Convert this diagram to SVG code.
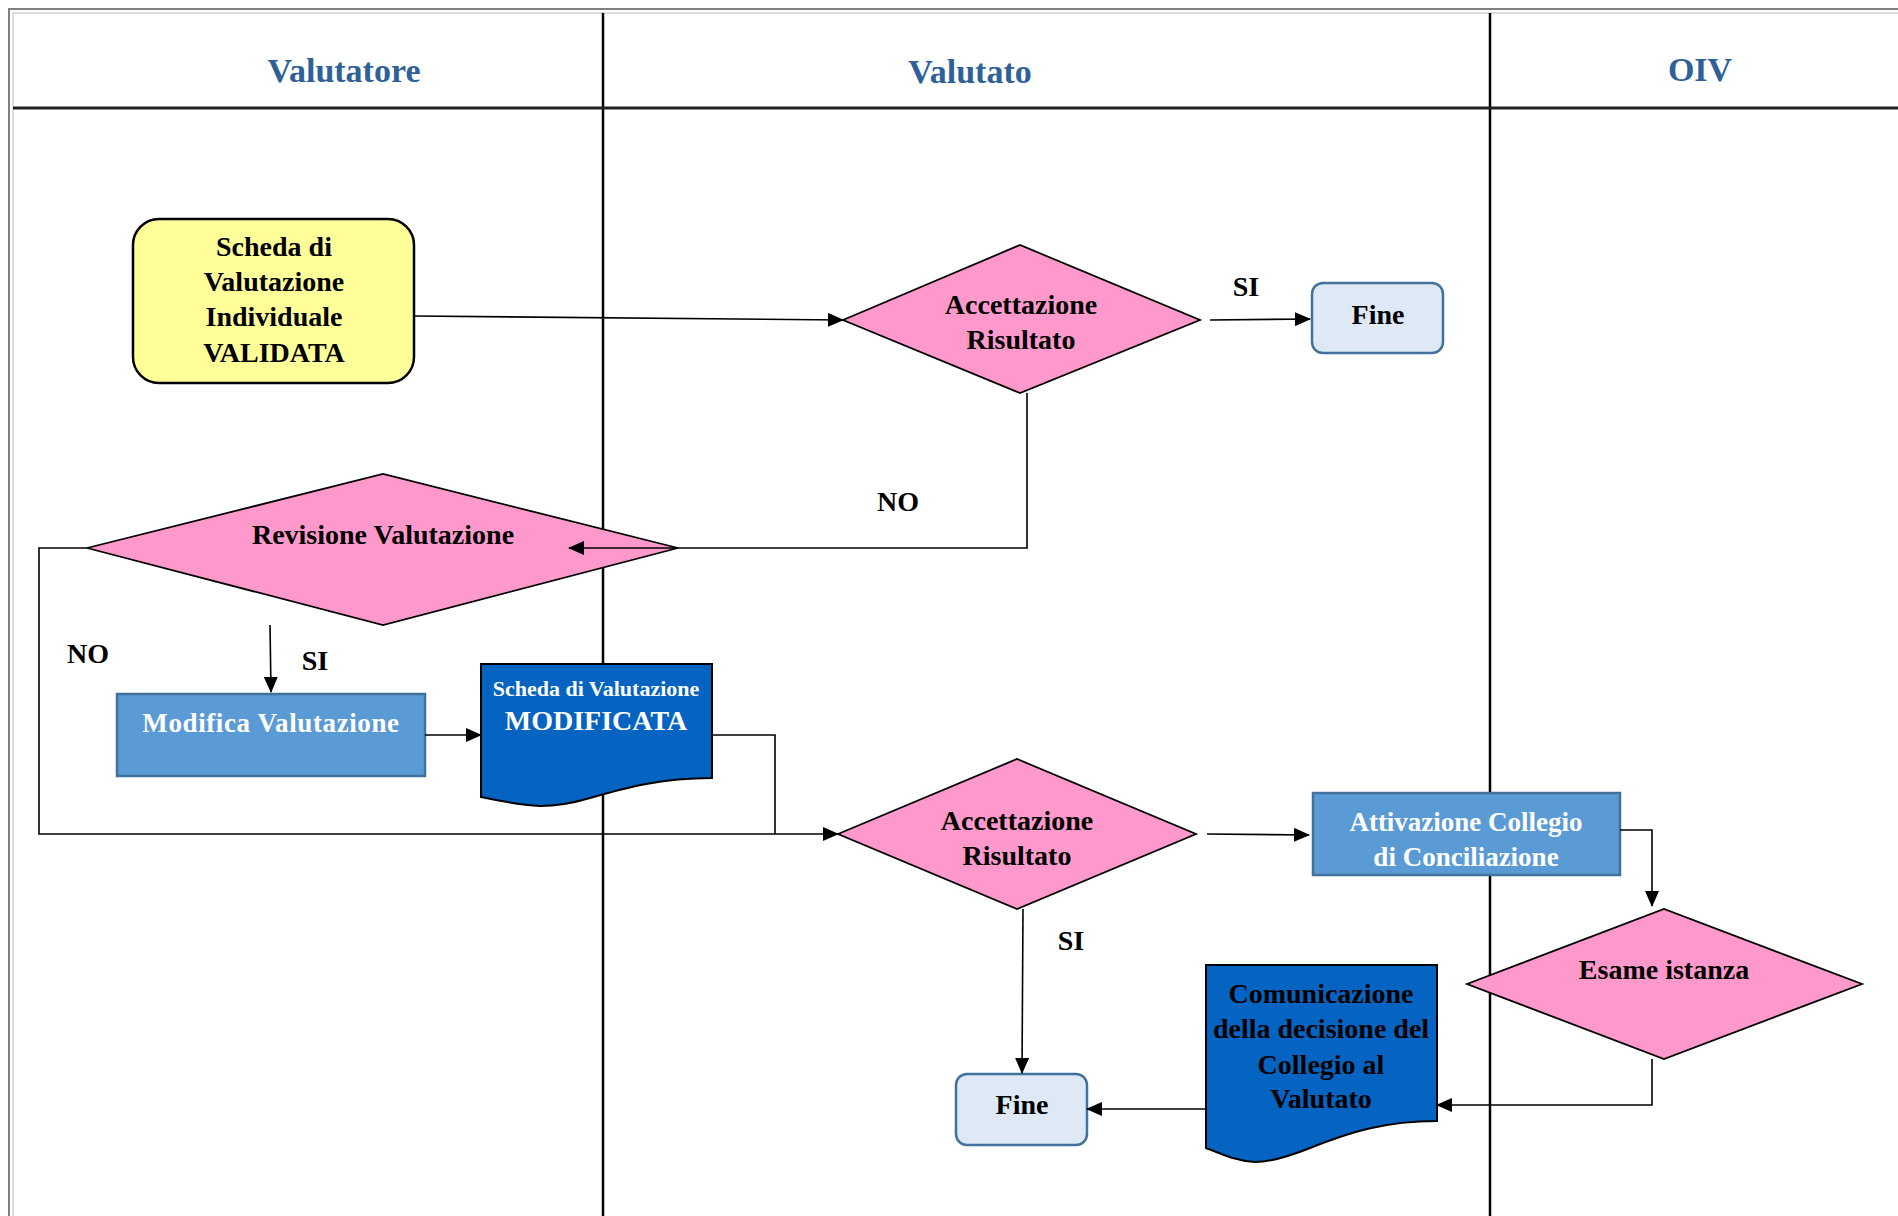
<svg xmlns="http://www.w3.org/2000/svg" width="1898" height="1216" viewBox="0 0 1898 1216">
<defs>
<marker id="arr" markerUnits="userSpaceOnUse" markerWidth="16" markerHeight="14" refX="15" refY="7" orient="auto">
<path d="M0,0 L16,7 L0,14 Z" fill="#000"/>
</marker>
<style>
text{font-family:"Liberation Serif","Times New Roman",serif;text-anchor:middle}
.hd{font-size:34px;font-weight:bold;fill:#2e6198}
.t{font-size:28px;font-weight:bold;fill:#000}
.w{font-size:27px;font-weight:bold;fill:#fff}
.dia{fill:#ff99cc;stroke:#000;stroke-width:1.8}
.fine{fill:#dee9f5;stroke:#41719c;stroke-width:2.5}
.proc{fill:#5b9bd5;stroke:#41719c;stroke-width:2.5}
.doc{fill:#0563c1;stroke:#000;stroke-width:2}
.c{fill:none;stroke:#000;stroke-width:1.6}
.lane{fill:none;stroke:#000;stroke-width:2.5}
</style>
</defs>
<rect width="1898" height="1216" fill="#fff"/>
<g id="frame">
<path d="M9,1216 V9 H1898" fill="none" stroke="#808080" stroke-width="2"/>
<path d="M13,1216 V13 H1898" fill="none" stroke="#d4d4d4" stroke-width="1.5"/>
<path class="lane" d="M603,13 V1216 M1490,13 V1216"/>
<path d="M13,108 H1898" stroke="#222" stroke-width="3"/>
</g>
<g id="headers">
<text class="hd" x="344" y="82">Valutatore</text>
<text class="hd" x="970" y="83">Valutato</text>
<text class="hd" x="1700" y="81">OIV</text>
</g>
<g id="scheda-validata">
<rect x="133" y="219" width="281" height="164" rx="26" fill="#ffff99" stroke="#000" stroke-width="2.5"/>
<text class="t" x="274" y="256">Scheda di</text>
<text class="t" x="274" y="291">Valutazione</text>
<text class="t" x="274" y="326">Individuale</text>
<text class="t" x="274" y="362">VALIDATA</text>
</g>
<g id="accettazione-1">
<polygon class="dia" points="843,320 1020,245 1200,320 1020,393"/>
<text class="t" x="1021" y="314">Accettazione</text>
<text class="t" x="1021" y="349">Risultato</text>
</g>
<g id="fine-1">
<rect class="fine" x="1312" y="283" width="131" height="70" rx="11"/>
<text class="t" x="1378" y="324">Fine</text>
</g>
<g id="revisione">
<polygon class="dia" points="87,548 383,474 678,548 383,625"/>
<text class="t" x="383" y="544">Revisione Valutazione</text>
</g>
<g id="modifica">
<rect class="proc" x="117" y="694" width="308" height="82"/>
<text class="w" x="271" y="732" letter-spacing="0.6">Modifica Valutazione</text>
</g>
<g id="scheda-modificata">
<path class="doc" d="M481,664 H712 V778 C660,778 625,788 590,798 C570,804 555,806 540,806 C520,805 500,801 481,797 Z"/>
<text class="w" x="596" y="696" style="font-size:22px">Scheda di Valutazione</text>
<text class="w" x="596" y="730" style="font-size:28px">MODIFICATA</text>
</g>
<g id="accettazione-2">
<polygon class="dia" points="838,834 1017,759 1196,834 1017,909"/>
<text class="t" x="1017" y="830">Accettazione</text>
<text class="t" x="1017" y="865">Risultato</text>
</g>
<g id="attivazione">
<rect class="proc" x="1313" y="793" width="307" height="82"/>
<text class="w" x="1466" y="831">Attivazione Collegio</text>
<text class="w" x="1466" y="866">di Conciliazione</text>
</g>
<g id="esame">
<polygon class="dia" points="1467,984 1664,909 1862,984 1664,1059"/>
<text class="t" x="1664" y="979">Esame istanza</text>
</g>
<g id="comunicazione">
<path class="doc" d="M1206,965 H1437 V1121 C1385,1121 1350,1132 1310,1148 C1285,1158 1270,1162 1255,1162 C1235,1161 1220,1153 1206,1148 Z"/>
<text class="t" x="1321" y="1003">Comunicazione</text>
<text class="t" x="1321" y="1038">della decisione del</text>
<text class="t" x="1321" y="1074">Collegio al</text>
<text class="t" x="1321" y="1108">Valutato</text>
</g>
<g id="fine-2">
<rect class="fine" x="956" y="1074" width="131" height="71" rx="11"/>
<text class="t" x="1022" y="1114">Fine</text>
</g>
<g id="connectors">
<path class="c" d="M414,316 L843,320" marker-end="url(#arr)"/>
<path class="c" d="M1210,320 L1310,319" marker-end="url(#arr)"/>
<path class="c" d="M1027,393 V548 H569" marker-end="url(#arr)"/>
<path class="c" d="M87,548 H39 V834 H838" marker-end="url(#arr)"/>
<path class="c" d="M270,625 L271,692" marker-end="url(#arr)"/>
<path class="c" d="M425,735 H481" marker-end="url(#arr)"/>
<path class="c" d="M712,735 H775 V834"/>
<path class="c" d="M1207,834 L1309,835" marker-end="url(#arr)"/>
<path class="c" d="M1620,830 H1652 V906" marker-end="url(#arr)"/>
<path class="c" d="M1652,1059 V1105 H1437" marker-end="url(#arr)"/>
<path class="c" d="M1206,1109 H1087" marker-end="url(#arr)"/>
<path class="c" d="M1023,909 L1022,1073" marker-end="url(#arr)"/>
<text class="t" x="1246" y="296">SI</text>
<text class="t" x="898" y="511">NO</text>
<text class="t" x="88" y="663">NO</text>
<text class="t" x="315" y="670">SI</text>
<text class="t" x="1071" y="950">SI</text>
</g>
</svg>
